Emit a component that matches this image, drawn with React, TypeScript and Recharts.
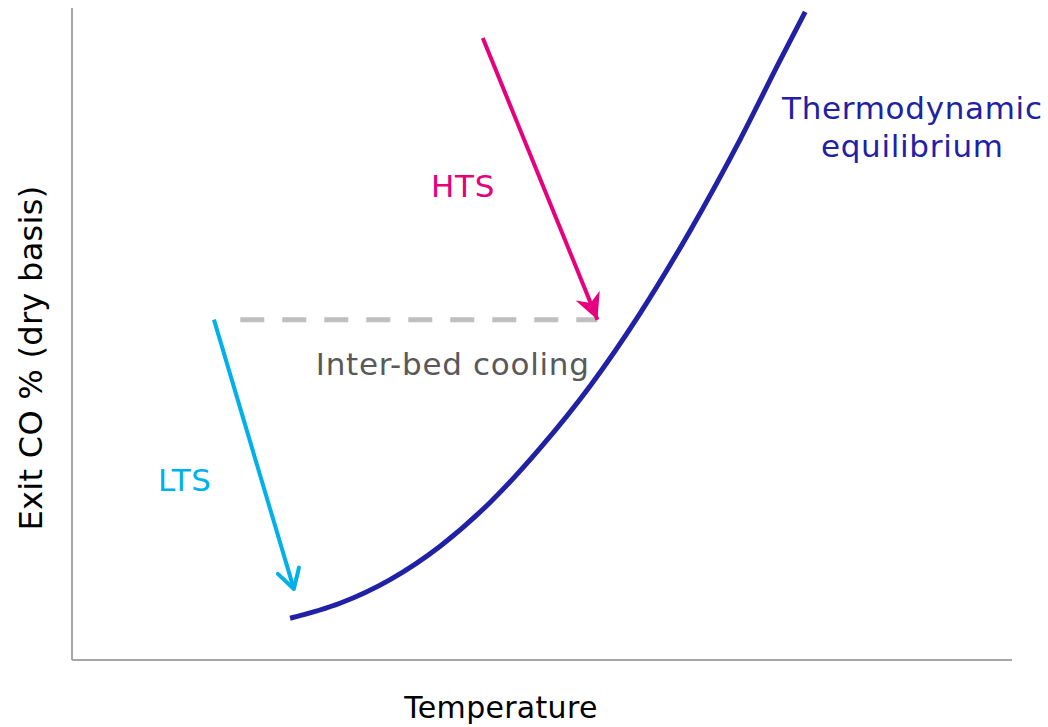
import React from 'react';
import { LineChart, Line, XAxis, YAxis, ReferenceDot, Label } from 'recharts';

// Thermodynamic equilibrium curve (temperature index vs exit CO %, arbitrary units 0-100)
const curveX = [23.2, 28.5, 33.8, 39.2, 44.5, 49.8, 55.1, 60.4, 65.7, 71.1, 75.3, 78.0];
const curveY = [6.4, 8.7, 12.3, 17.5, 24.2, 32.5, 42.0, 53.1, 65.7, 79.9, 91.9, 99.4];

// HTS adiabatic path
const htsX = [43.7, 55.9];
const htsY = [95.4, 52.2];

// Inter-bed cooling
const coolX = [17.9, 55.9];
const coolY = [52.2, 52.2];

// LTS adiabatic path
const ltsX = [15.1, 23.6];
const ltsY = [52.2, 10.9];

// Annotation labels
const labelText = ['Thermodynamic', 'equilibrium', 'HTS', 'LTS', 'Inter-bed cooling'];
const labelX = [89.4, 89.4, 41.6, 12.0, 40.5];
const labelY = [84.7, 78.8, 72.7, 27.6, 45.4];
const labelColor = ['#2121a6', '#2121a6', '#e6007e', '#00b0ea', '#595959'];

const xTitle = 'Temperature';
const yTitle = 'Exit CO % (dry basis)';

const zip = (xs: number[], ys: number[]) => xs.map((x, i) => ({ x, y: ys[i] }));

const curve = zip(curveX, curveY);
const hts = zip(htsX, htsY);
const cool = zip(coolX, coolY);
const lts = zip(ltsX, ltsY);

const FONT = 'DejaVu Sans, Verdana, sans-serif';

const XTitle = (props: any) => {
  const vb = props.viewBox || {};
  return (
    <text
      x={vb.x + vb.width / 2 - 41}
      y={vb.y + 58}
      textAnchor="middle"
      fontSize={30}
      fontFamily={FONT}
      letterSpacing={0.3}
      fill="#000000"
    >
      {xTitle}
    </text>
  );
};

const YTitle = (props: any) => {
  const vb = props.viewBox || {};
  const cx = vb.x + vb.width - 30;
  const cy = vb.y + vb.height / 2 + 24;
  return (
    <text
      x={cx}
      y={cy}
      transform={`rotate(-90, ${cx}, ${cy})`}
      textAnchor="middle"
      fontSize={32}
      fontFamily={FONT}
      letterSpacing={0.3}
      fill="#000000"
    >
      {yTitle}
    </text>
  );
};

export default function App() {
  return (
    <div style={{ position: 'absolute', left: 0, top: 0, background: '#fff' }}>
      <LineChart
        width={1048}
        height={727}
        margin={{ top: 8, right: 36, bottom: 37, left: 42 }}
        style={{ fontFamily: FONT }}
      >
        <defs>
          <marker
            id="htsHead"
            markerUnits="userSpaceOnUse"
            viewBox="0 0 40 40"
            markerWidth={40}
            markerHeight={40}
            refX={28}
            refY={20}
            orient="auto"
          >
            <path d="M28,20 L2,7 L10,20 L2,33 Z" fill="#e6007e" />
          </marker>
          <marker
            id="ltsHead"
            markerUnits="userSpaceOnUse"
            viewBox="0 0 40 40"
            markerWidth={40}
            markerHeight={40}
            refX={24}
            refY={20}
            orient="auto"
          >
            <path
              d="M5,9 L24,20 L5,31"
              fill="none"
              stroke="#00b0ea"
              strokeWidth={4}
              strokeLinecap="round"
              strokeLinejoin="round"
            />
          </marker>
        </defs>
        <XAxis
          type="number"
          dataKey="x"
          domain={[0, 100]}
          allowDataOverflow
          tick={false}
          tickLine={false}
          height={30}
          axisLine={{ stroke: '#a6a6a6', strokeWidth: 2 }}
        >
          <Label content={<XTitle />} />
        </XAxis>
        <YAxis
          type="number"
          dataKey="y"
          domain={[0, 100]}
          allowDataOverflow
          tick={false}
          tickLine={false}
          width={30}
          axisLine={{ stroke: '#a6a6a6', strokeWidth: 2 }}
        >
          <Label content={<YTitle />} />
        </YAxis>
        <Line
          data={cool}
          dataKey="y"
          type="linear"
          stroke="#bfbfbf"
          strokeWidth={5}
          strokeDasharray="24 18"
          dot={false}
          activeDot={false}
          isAnimationActive={false}
        />
        <Line
          data={curve}
          dataKey="y"
          type="monotone"
          stroke="#2121a6"
          strokeWidth={5}
          dot={false}
          activeDot={false}
          isAnimationActive={false}
        />
        <Line
          data={hts}
          dataKey="y"
          type="linear"
          stroke="#e6007e"
          strokeWidth={4}
          dot={false}
          activeDot={false}
          markerEnd="url(#htsHead)"
          isAnimationActive={false}
        />
        <Line
          data={lts}
          dataKey="y"
          type="linear"
          stroke="#00b0ea"
          strokeWidth={4}
          dot={false}
          activeDot={false}
          markerEnd="url(#ltsHead)"
          isAnimationActive={false}
        />
        {labelText.map((t, i) => (
          <ReferenceDot
            key={t}
            x={labelX[i]}
            y={labelY[i]}
            r={0}
            fill="none"
            stroke="none"
            label={{
              value: t,
              position: 'center',
              fill: labelColor[i],
              fontSize: 31,
              fontFamily: FONT,
              letterSpacing: 0.7,
            }}
          />
        ))}
      </LineChart>
    </div>
  );
}
